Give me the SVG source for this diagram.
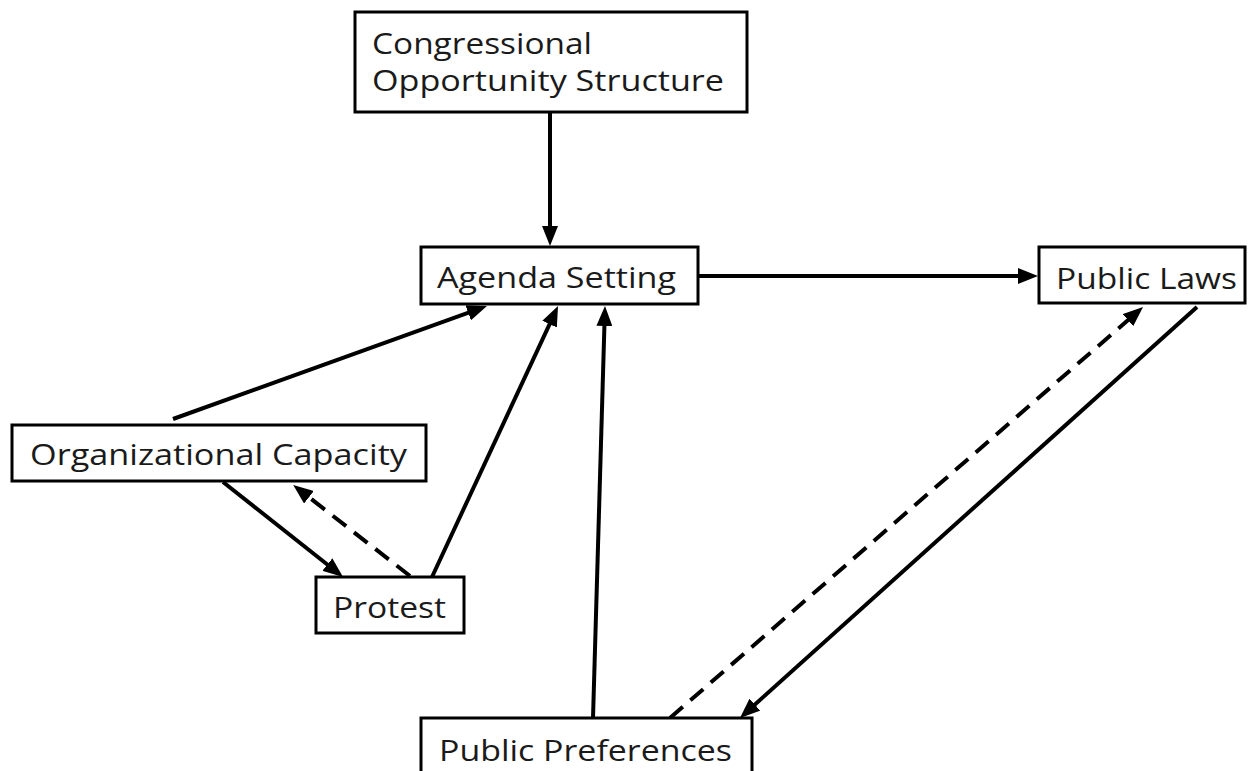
<svg xmlns="http://www.w3.org/2000/svg" width="1249" height="771" viewBox="0 0 1249 771">
<style>
.box{fill:#fff;stroke:#000;stroke-width:3}
.lbl{font-family:"Open Sans","Liberation Sans",sans-serif;font-size:30px;fill:#1a1a1a}
.ln{stroke:#000;stroke-width:4;fill:none}
.dash{stroke-dasharray:17 10}
</style>
<defs>
<marker id="ah" markerUnits="userSpaceOnUse" markerWidth="20" markerHeight="16" refX="10" refY="8" orient="auto">
<path d="M0,0 L20,8 L0,16 z" fill="#000"/>
</marker>
</defs>
<rect width="1249" height="771" fill="#fff"/>
<g id="connectors">
<line class="ln" x1="550" y1="112" x2="550" y2="236" marker-end="url(#ah)"/>
<line class="ln" x1="698" y1="276" x2="1028" y2="276" marker-end="url(#ah)"/>
<line class="ln" x1="173" y1="419" x2="477.6" y2="309.4" marker-end="url(#ah)"/>
<line class="ln" x1="432" y1="577" x2="553.8" y2="315.1" marker-end="url(#ah)"/>
<line class="ln" x1="593" y1="718" x2="604.7" y2="316" marker-end="url(#ah)"/>
<line class="ln" x1="1197" y1="307" x2="747.4" y2="711.3" marker-end="url(#ah)"/>
<line class="ln dash" x1="670" y1="718" x2="1135.5" y2="313.6" marker-end="url(#ah)"/>
<line class="ln" x1="223" y1="482" x2="335.2" y2="570.8" marker-end="url(#ah)"/>
<line class="ln dash" x1="410" y1="576" x2="301.1" y2="491.1" marker-end="url(#ah)"/>
</g>
<g id="congressional">
<rect class="box" x="355" y="12" width="392" height="100"/>
<text class="lbl" x="372" y="54" textLength="220" lengthAdjust="spacingAndGlyphs">Congressional</text>
<text class="lbl" x="372" y="91" textLength="352" lengthAdjust="spacingAndGlyphs">Opportunity Structure</text>
</g>
<g id="agenda">
<rect class="box" x="421" y="247" width="277" height="57"/>
<text class="lbl" x="437" y="288" textLength="239" lengthAdjust="spacingAndGlyphs">Agenda Setting</text>
</g>
<g id="laws">
<rect class="box" x="1039" y="247" width="206" height="56"/>
<text class="lbl" x="1056" y="289" textLength="181" lengthAdjust="spacingAndGlyphs">Public Laws</text>
</g>
<g id="orgcap">
<rect class="box" x="12" y="425" width="414" height="56"/>
<text class="lbl" x="30" y="465" textLength="377" lengthAdjust="spacingAndGlyphs">Organizational Capacity</text>
</g>
<g id="protest">
<rect class="box" x="316" y="577" width="148" height="56"/>
<text class="lbl" x="333" y="618" textLength="113" lengthAdjust="spacingAndGlyphs">Protest</text>
</g>
<g id="preferences">
<rect class="box" x="421" y="718" width="331" height="80"/>
<text class="lbl" x="439" y="761" textLength="293" lengthAdjust="spacingAndGlyphs">Public Preferences</text>
</g>
</svg>
